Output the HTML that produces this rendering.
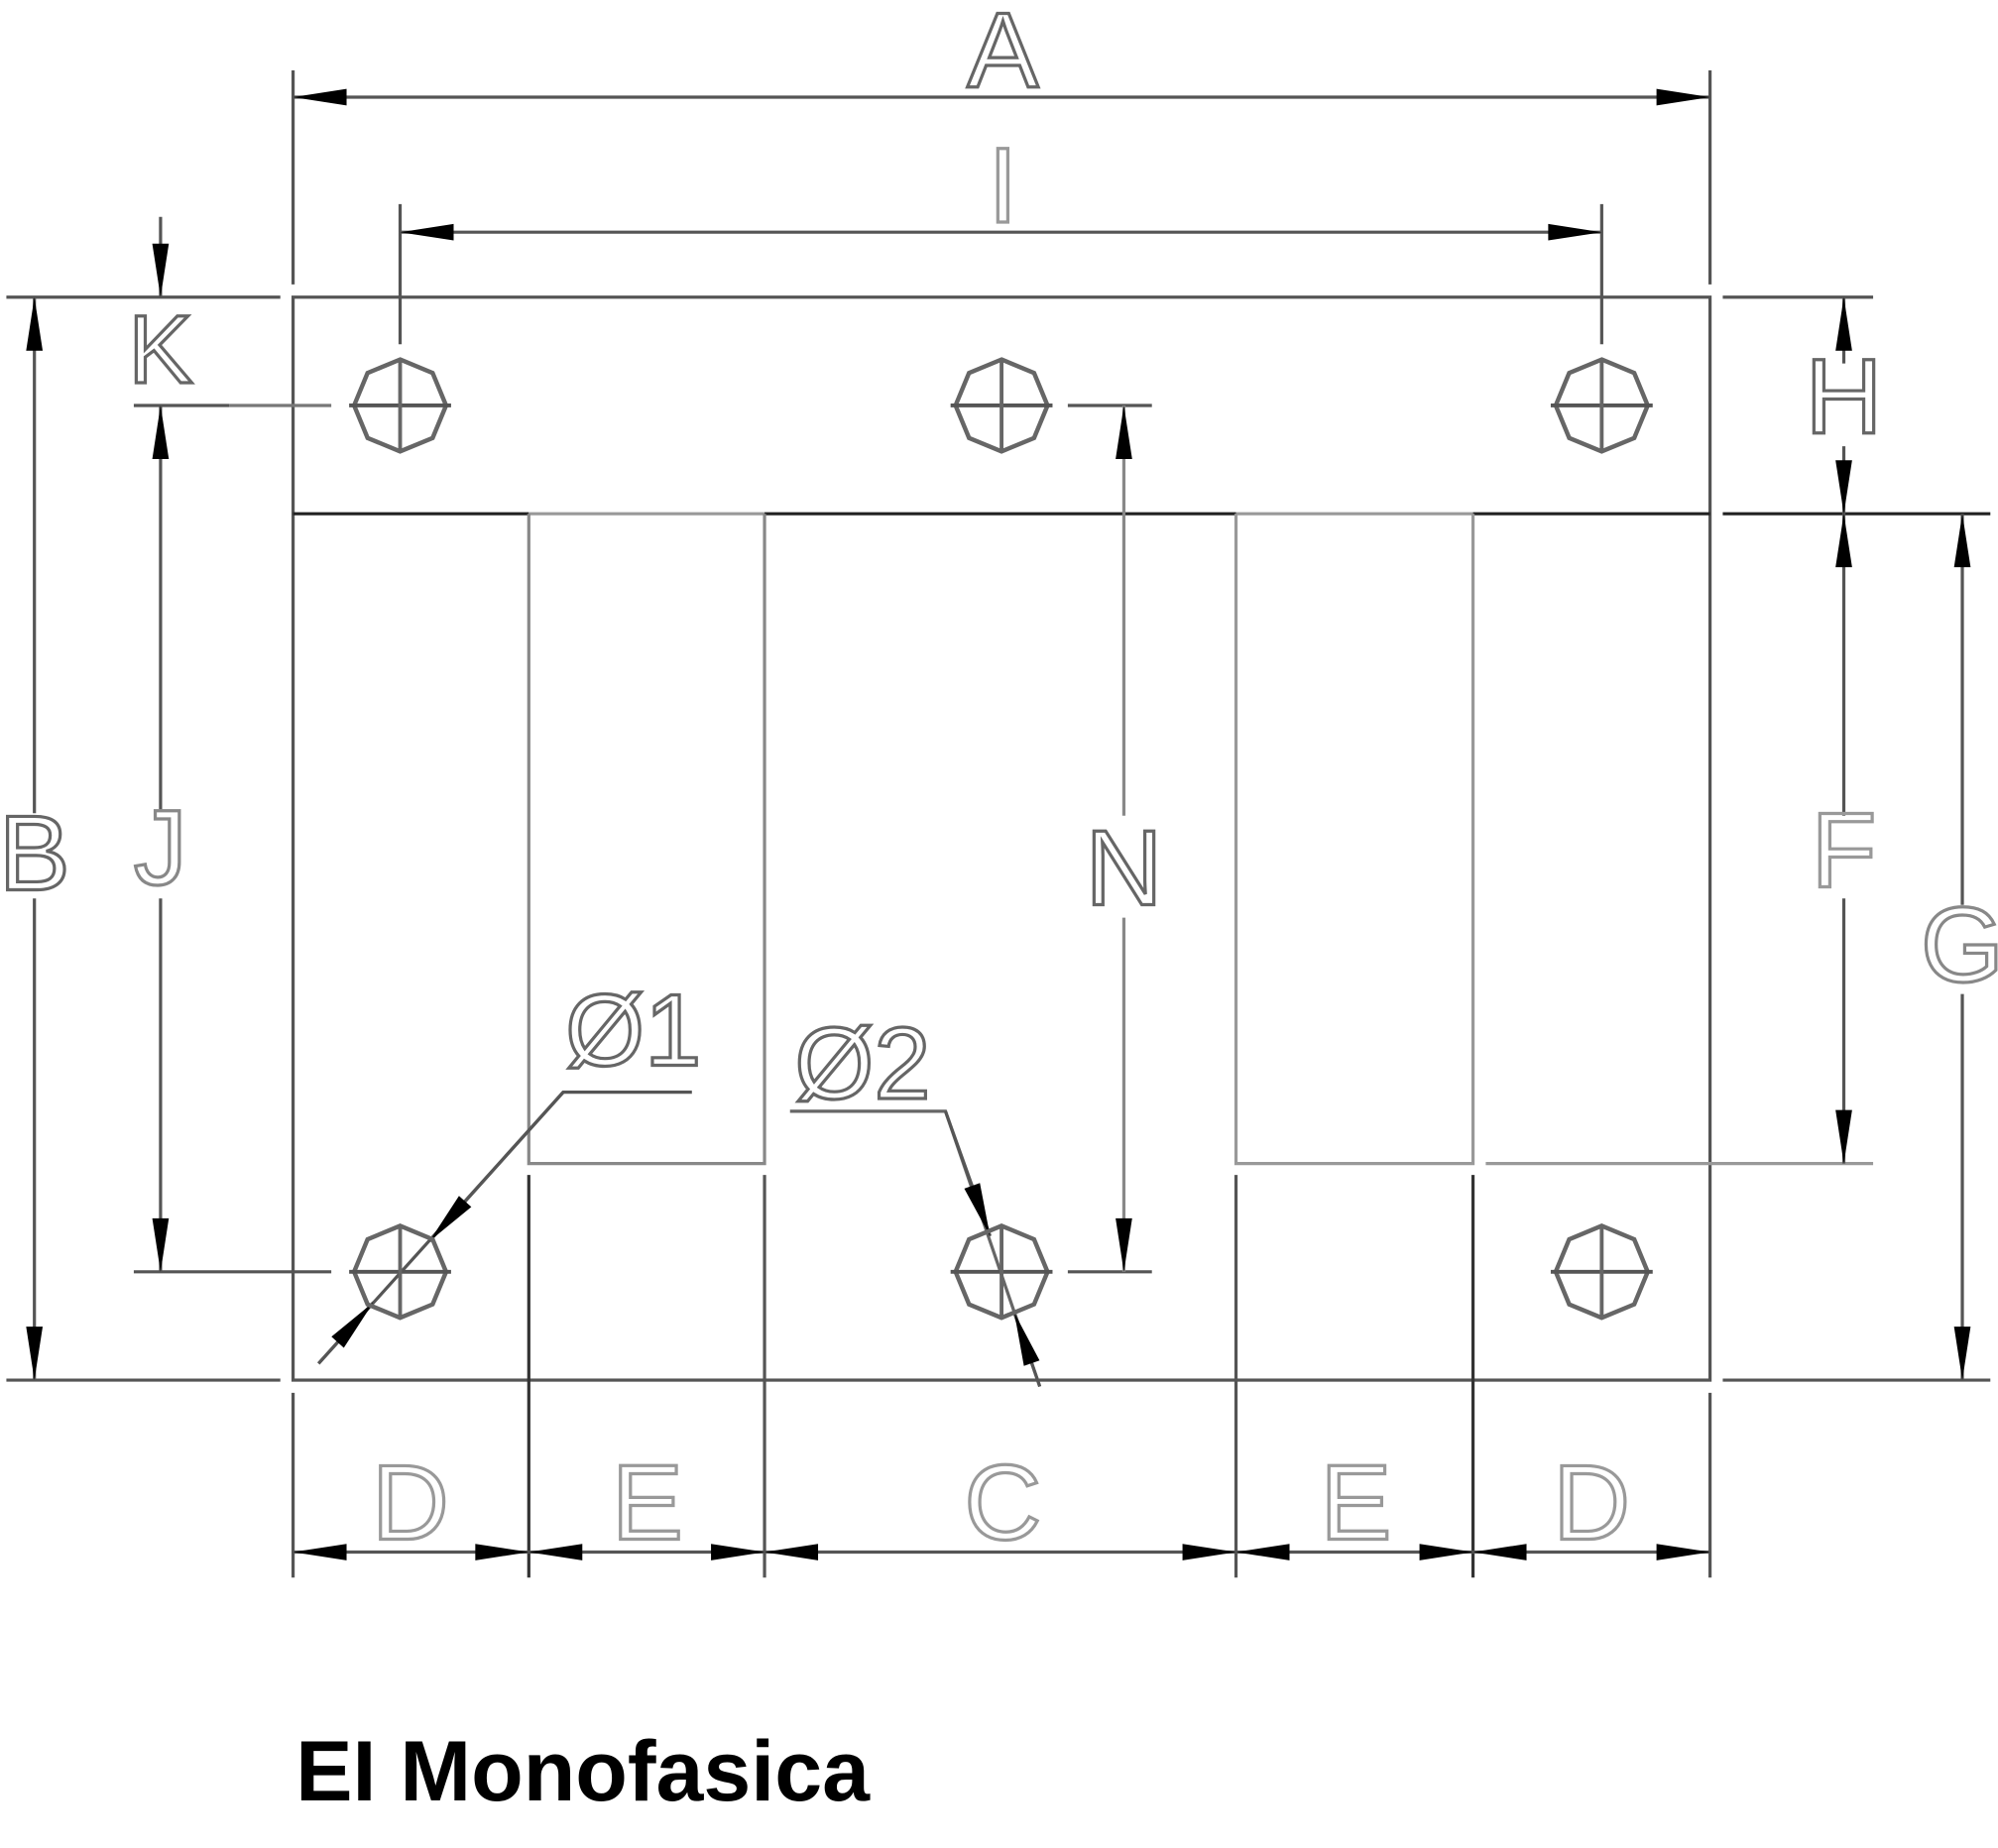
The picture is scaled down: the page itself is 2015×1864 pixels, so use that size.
<!DOCTYPE html>
<html><head><style>html,body{margin:0;padding:0;background:#fff}svg{display:block}</style></head>
<body>
<svg width="2015" height="1864" viewBox="0 0 1568 1450" xmlns="http://www.w3.org/2000/svg">
<defs>
<marker id="ar" markerUnits="userSpaceOnUse" markerWidth="50" markerHeight="20" refX="0" refY="0" viewBox="-44 -10 50 20" orient="auto-start-reverse" overflow="visible">
<path d="M0,0 L-42,-6.5 L-42,6.5 z" fill="#000"/>
</marker>
<g id="hole">
<polygon points="-12,-29 12,-29 29,-12 29,12 12,29 -12,29 -29,12 -29,-12" fill="none" stroke="#666" stroke-width="3" transform="rotate(22.5) scale(1.15,1.15)" />
<line x1="-40" y1="0" x2="40" y2="0" stroke="#555" stroke-width="3"/>
<line x1="0" y1="-36" x2="0" y2="36" stroke="#666" stroke-width="3"/>
</g>
</defs>
<g fill="none" stroke="#555" stroke-width="2.5">
<rect x="230" y="233" width="1112" height="850"/>
<line x1="230" y1="403" x2="415" y2="403" stroke="#222"/>
<line x1="600" y1="403" x2="970" y2="403" stroke="#222"/>
<line x1="1156" y1="403" x2="1342" y2="403" stroke="#222"/>
<line x1="415" y1="403" x2="600" y2="403" stroke="#999"/>
<line x1="970" y1="403" x2="1156" y2="403" stroke="#999"/>
<polyline points="415,403 415,913 600,913 600,403" stroke="#888"/>
<polyline points="970,403 970,913 1156,913 1156,403" stroke="#999"/>
<line x1="415" y1="922" x2="415" y2="1238" stroke="#333"/>
<line x1="600" y1="922" x2="600" y2="1238"/>
<line x1="970" y1="922" x2="970" y2="1238"/>
<line x1="1156" y1="922" x2="1156" y2="1238" stroke="#333"/>
<line x1="230" y1="1093" x2="230" y2="1238"/>
<line x1="1342" y1="1093" x2="1342" y2="1238"/>
<line x1="230" y1="55" x2="230" y2="223"/>
<line x1="1342" y1="55" x2="1342" y2="223"/>
<line x1="314" y1="160" x2="314" y2="270"/>
<line x1="1257" y1="160" x2="1257" y2="270"/>
<line x1="5" y1="233" x2="220" y2="233"/>
<line x1="5" y1="1083" x2="220" y2="1083"/>
<line x1="105" y1="318" x2="180" y2="318"/>
<line x1="105" y1="998" x2="260" y2="998"/>
<line x1="1352" y1="233" x2="1470" y2="233"/>
<line x1="1352" y1="403" x2="1562" y2="403" stroke="#222"/>
<line x1="1352" y1="1083" x2="1562" y2="1083"/>
<line x1="1166" y1="913" x2="1470" y2="913" stroke="#999"/>
<line x1="838" y1="318" x2="904" y2="318"/>
<line x1="838" y1="998" x2="904" y2="998"/>
<line x1="180" y1="318" x2="260" y2="318" stroke="#777"/>
<line x1="230" y1="76" x2="1342" y2="76" marker-start="url(#ar)" marker-end="url(#ar)"/>
<line x1="314" y1="182" x2="1257" y2="182" marker-start="url(#ar)" marker-end="url(#ar)"/>
<line x1="27" y1="638" x2="27" y2="233" marker-end="url(#ar)"/>
<line x1="27" y1="705" x2="27" y2="1083" marker-end="url(#ar)"/>
<line x1="126" y1="170" x2="126" y2="233" marker-end="url(#ar)"/>
<line x1="126" y1="635" x2="126" y2="318" marker-end="url(#ar)"/>
<line x1="126" y1="705" x2="126" y2="998" marker-end="url(#ar)"/>
<line x1="1447" y1="285" x2="1447" y2="233" marker-end="url(#ar)"/>
<line x1="1447" y1="350" x2="1447" y2="403" marker-end="url(#ar)"/>
<line x1="1447" y1="640" x2="1447" y2="403" marker-end="url(#ar)"/>
<line x1="1447" y1="705" x2="1447" y2="913" marker-end="url(#ar)"/>
<line x1="1540" y1="710" x2="1540" y2="403" marker-end="url(#ar)"/>
<line x1="1540" y1="780" x2="1540" y2="1083" marker-end="url(#ar)"/>
<line x1="882" y1="640" x2="882" y2="318" marker-end="url(#ar)" stroke="#888"/>
<line x1="882" y1="720" x2="882" y2="998" marker-end="url(#ar)" stroke="#888"/>
<line x1="230" y1="1218" x2="415" y2="1218" marker-start="url(#ar)" marker-end="url(#ar)"/>
<line x1="415" y1="1218" x2="600" y2="1218" marker-start="url(#ar)" marker-end="url(#ar)"/>
<line x1="600" y1="1218" x2="970" y2="1218" marker-start="url(#ar)" marker-end="url(#ar)"/>
<line x1="970" y1="1218" x2="1156" y2="1218" marker-start="url(#ar)" marker-end="url(#ar)"/>
<line x1="1156" y1="1218" x2="1342" y2="1218" marker-start="url(#ar)" marker-end="url(#ar)"/>
<polyline points="543,857 442,857 250,1070"/>
<line x1="442" y1="857" x2="337" y2="974" marker-end="url(#ar)"/>
<line x1="250" y1="1070" x2="293" y2="1022" marker-end="url(#ar)"/>
<polyline points="620,872 742,872 816,1088" stroke="#666"/>
<line x1="742" y1="872" x2="777" y2="970" marker-end="url(#ar)"/>
<line x1="816" y1="1088" x2="796" y2="1030" marker-end="url(#ar)"/>
</g>
<use href="#hole" x="314" y="318"/>
<use href="#hole" x="786" y="318"/>
<use href="#hole" x="1257" y="318"/>
<use href="#hole" x="314" y="998"/>
<use href="#hole" x="786" y="998"/>
<use href="#hole" x="1257" y="998"/>
<g font-family="'Liberation Sans', sans-serif" font-size="84" fill="none" stroke="#666" stroke-width="2.5" text-anchor="middle">
<text x="787" y="68">A</text>
<text x="787" y="174" stroke="#999">I</text>
<text x="27" y="698">B</text>
<text x="126" y="300" font-size="76">K</text>
<text x="126" y="694" stroke="#888">J</text>
<text x="1447" y="340">H</text>
<text x="1447" y="696" stroke="#999">F</text>
<text x="1540" y="770" stroke="#888">G</text>
<text x="882" y="710">N</text>
<text x="322" y="1208" stroke="#999">D</text>
<text x="508" y="1208" stroke="#999">E</text>
<text x="787" y="1208" stroke="#999">C</text>
<text x="1064" y="1208" stroke="#999">E</text>
<text x="1249" y="1208" stroke="#999">D</text>
<text x="497" y="836" font-size="80">Ø1</text>
<text x="677" y="862" font-size="80">Ø2</text>
</g>
<text x="232" y="1413" font-family="'Liberation Sans', sans-serif" font-weight="bold" font-size="67" fill="#000">EI Monofasica</text>
</svg>
</body></html>
